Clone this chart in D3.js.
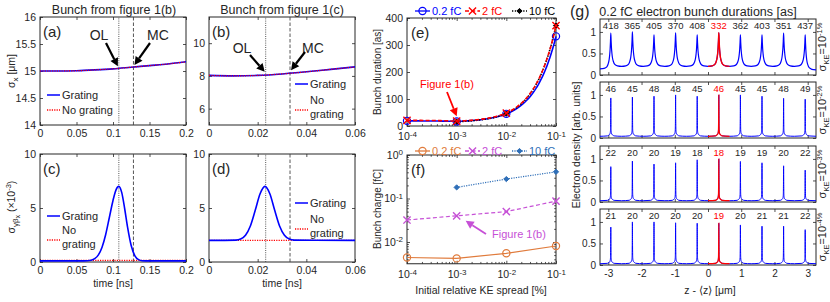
<!DOCTYPE html>
<html>
<head>
<meta charset="utf-8">
<script src="https://cdn.jsdelivr.net/npm/d3@7"></script>
<style>
  body { margin: 0; background: #fff; }
  svg { font-family: "Liberation Sans", Arial, Helvetica, sans-serif; }
</style>
</head>
<body>
<script>
//-----------------Data----------------

// panels (a)/(c): bunch from figure 1(b)
const timeA = [0, 0.025, 0.05, 0.075, 0.1, 0.125, 0.15, 0.175, 0.2];
const sigmaXA = [15.0, 15.0, 15.005, 15.02, 15.04, 15.07, 15.1, 15.13, 15.17];
const timeC = [0, 0.06, 0.07, 0.075, 0.08, 0.085, 0.09, 0.095, 0.1, 0.104, 0.108, 0.112, 0.116, 0.12, 0.125, 0.13, 0.135, 0.14, 0.15, 0.2];
const sigmaGbC = [0.1, 0.1, 0.17, 0.31, 0.66, 1.37, 2.55, 4.12, 5.7, 6.66, 7.0, 6.42, 4.93, 3.2, 1.5, 0.57, 0.22, 0.12, 0.1, 0.1];
const noGratingC = [0.15, 0.15];
const markersAC = [0.108, 0.128]; // OL, MC

// panels (b)/(d): bunch from figure 1(c)
const timeB = [0, 0.01, 0.02, 0.03, 0.04, 0.05, 0.06];
const sigmaXB = [8.03, 8.0, 8.03, 8.12, 8.25, 8.4, 8.55];
const timeD = [0, 0.011, 0.013, 0.015, 0.017, 0.019, 0.021, 0.023, 0.025, 0.027, 0.029, 0.031, 0.033, 0.035, 0.06];
const sigmaGbD = [2.0, 2.03, 2.13, 2.48, 3.34, 4.79, 6.32, 7.0, 6.32, 4.79, 3.34, 2.48, 2.13, 2.03, 2.0];
const noGratingD = [2.0, 2.0];
const markersBD = [0.0233, 0.0333];

// panel (e): bunch duration [as] vs initial KE spread [%]
const spreads = [1e-4, 1e-3, 1e-2, 1e-1];
const dur02 = [19, 17, 45, 332];
const dur2 = [21, 18, 48, 372];
const dur10 = [null, 16, 46, 372];

// panel (f): bunch charge [fC]
const charge02 = [0.0044, 0.0042, 0.0055, 0.0081];
const charge2 = [0.032, 0.040, 0.050, 0.087];
const charge10 = [null, 0.18, 0.28, 0.41];

// panel (g): 0.2 fC bunch trains
const peakPos = [-2.925, -2.275, -1.625, -0.975, -0.325, 0.325, 0.975, 1.625, 2.275, 2.925];
const redPeak = 5;
const keExp = ["-1", "-2", "-3", "-4"];
const durLabels = [
  [418, 365, 405, 370, 408, 332, 362, 403, 351, 437],
  [46, 45, 48, 48, 45, 46, 45, 45, 48, 49],
  [22, 20, 20, 19, 18, 18, 19, 19, 20, 22],
  [21, 20, 20, 20, 20, 19, 20, 21, 21, 22]
];
const peakHeights = [
  [0.97, 1.0, 0.93, 0.98, 0.93, 0.98, 0.93, 0.93, 0.97, 0.93],
  [0.93, 0.95, 0.97, 1.0, 0.97, 1.0, 1.0, 0.97, 0.92, 0.9],
  [0.82, 0.95, 0.88, 0.91, 0.98, 1.0, 0.94, 0.91, 0.84, 0.74],
  [0.88, 1.0, 1.0, 0.98, 0.97, 0.97, 0.93, 0.9, 0.9, 0.82]
];
// level between peaks (cell borders)
const cellBase = [
  [0.14, 0.2, 0.2, 0.2, 0.2, 0.2, 0.2, 0.2, 0.2, 0.2, 0.12],
  [0.04, 0.04, 0.04, 0.04, 0.04, 0.04, 0.04, 0.04, 0.04, 0.04, 0.04],
  [0.03, 0.03, 0.03, 0.03, 0.03, 0.03, 0.03, 0.03, 0.03, 0.03, 0.03],
  [0.03, 0.03, 0.03, 0.03, 0.03, 0.03, 0.03, 0.03, 0.03, 0.03, 0.03]
];
// peak profile: offset from peak [um] -> fraction above base
const wideOffsets = [0, 0.01, 0.02, 0.035, 0.05, 0.08, 0.12, 0.2, 0.325];
const wideLevels = [1, 0.76, 0.56, 0.38, 0.26, 0.14, 0.06, 0.015, 0];
const thinOffsets = [0, 0.005, 0.01, 0.02, 0.035, 0.06, 0.1, 0.325];
const thinLevels = [1, 0.4, 0.15, 0.08, 0.05, 0.03, 0.01, 0];

//-----------------Svg----------------

const width = 830, height = 302;
const ink = "#262626", blue = "#0000ff", red = "#ff0000";
const orange = "#e07b3c", purple = "#c650d6", steel = "#2f6fb8";
const svg = d3.select("body").append("svg").attr("width", width).attr("height", height);

function axes(x, y, o) {
  const [x0, x1] = x.range(), [yb, yt] = y.range();
  const fs = o.fs || 10.5;
  const g = svg.append("g");
  const tl = o.tl || 3;
  g.append("g").attr("class", "xb").attr("transform", `translate(0,${yb})`)
    .call(d3.axisBottom(x).tickValues(o.xt).tickSize(-tl).tickPadding(o.xpad || 5).tickFormat(o.xf || (() => "")));
  g.append("g").attr("transform", `translate(0,${yt})`)
    .call(d3.axisTop(x).tickValues(o.xt).tickSize(-tl).tickFormat(() => ""));
  g.append("g").attr("class", "yl").attr("transform", `translate(${x0},0)`)
    .call(d3.axisLeft(y).tickValues(o.yt).tickSize(-tl).tickPadding(4).tickFormat(o.yf || (() => "")));
  g.append("g").attr("transform", `translate(${x1},0)`)
    .call(d3.axisRight(y).tickValues(o.yt).tickSize(-tl).tickFormat(() => ""));
  if (o.xminor) {
    g.append("g").attr("transform", `translate(0,${yb})`).call(d3.axisBottom(x).tickValues(o.xminor).tickSize(-1.8).tickFormat(() => ""));
    g.append("g").attr("transform", `translate(0,${yt})`).call(d3.axisTop(x).tickValues(o.xminor).tickSize(-1.8).tickFormat(() => ""));
  }
  if (o.yminor) {
    g.append("g").attr("transform", `translate(${x0},0)`).call(d3.axisLeft(y).tickValues(o.yminor).tickSize(-1.8).tickFormat(() => ""));
    g.append("g").attr("transform", `translate(${x1},0)`).call(d3.axisRight(y).tickValues(o.yminor).tickSize(-1.8).tickFormat(() => ""));
  }
  g.selectAll(".domain").remove();
  g.selectAll(".tick line").attr("stroke", ink).attr("stroke-width", 0.8);
  g.selectAll("text").attr("font-size", fs).attr("fill", ink).attr("font-family", null);
  g.append("rect").attr("x", x0).attr("y", yt).attr("width", x1 - x0).attr("height", yb - yt)
    .attr("fill", "none").attr("stroke", ink).attr("stroke-width", 1);
  return g;
}

// 10^n labels on a log axis
function powerLabels(g) {
  g.selectAll(".tick text").each(function (d) {
    const t = d3.select(this);
    t.text(null);
    t.append("tspan").text("10");
    t.append("tspan").attr("dy", "-0.45em").attr("font-size", 8).text(String(Math.round(Math.log10(d))));
  });
}

function decadeMinor(lo, hi) {
  const out = [];
  for (let e = lo; e < hi; e++) for (let m = 2; m <= 9; m++) out.push(m * Math.pow(10, e));
  return out;
}

function arrow(x1, y1, x2, y2, color, w) {
  const a = Math.atan2(y2 - y1, x2 - x1), L = 8, hw = 4.2;
  const bx = x2 - L * Math.cos(a), by = y2 - L * Math.sin(a);
  svg.append("line").attr("x1", x1).attr("y1", y1).attr("x2", bx).attr("y2", by)
    .attr("stroke", color).attr("stroke-width", w || 2.2);
  svg.append("path")
    .attr("d", `M${x2},${y2}L${bx + hw * Math.sin(a)},${by - hw * Math.cos(a)}L${bx - hw * Math.sin(a)},${by + hw * Math.cos(a)}Z`)
    .attr("fill", color);
}

function text(x, y, s, o = {}) {
  return svg.append("text").attr("x", x).attr("y", y).text(s)
    .attr("font-size", o.fs || 11).attr("fill", o.fill || ink)
    .attr("text-anchor", o.anchor || "start");
}

function vlines(x, y, marks) {
  marks.forEach((m, i) => {
    svg.append("line").attr("x1", x(m)).attr("x2", x(m)).attr("y1", y.range()[0]).attr("y2", y.range()[1])
      .attr("stroke", "#444").attr("stroke-width", 0.9)
      .attr("stroke-dasharray", i === 0 ? "1,1.2" : "3.5,2");
  });
}

function curve(x, y, xs, ys, color, w, dash) {
  const line = d3.line().x((d) => x(d[0])).y((d) => y(d[1])).curve(d3.curveMonotoneX);
  svg.append("path").datum(xs.map((v, i) => [v, ys[i]])).attr("d", line)
    .attr("fill", "none").attr("stroke", color).attr("stroke-width", w)
    .attr("stroke-dasharray", dash || null);
}

function legendLine(x, y, color, dotted) {
  svg.append("line").attr("x1", x).attr("x2", x + 13).attr("y1", y).attr("y2", y)
    .attr("stroke", color).attr("stroke-width", dotted ? 1.3 : 1.5)
    .attr("stroke-dasharray", dotted ? "1.2,1.2" : null);
}

//-----------------Panels a-d----------------

const fmtDec = (d) => String(d);
const xAC = d3.scaleLinear().domain([0, 0.2]).range([40, 186]);
const xBD = d3.scaleLinear().domain([0, 0.06]).range([209, 355]);
const yA = d3.scaleLinear().domain([14, 16]).range([125, 17]);
const yB = d3.scaleLinear().domain([5, 11.6]).range([125, 17]);
const yC = d3.scaleLinear().domain([0, 10]).range([262, 154]);
const yD = d3.scaleLinear().domain([0, 10]).range([262, 154]);

axes(xAC, yA, { xt: [0, 0.05, 0.1, 0.15, 0.2], yt: [14, 14.5, 15, 15.5, 16], xf: fmtDec, yf: fmtDec });
axes(xBD, yB, { xt: [0, 0.02, 0.04, 0.06], yt: [6, 8, 10], xf: fmtDec, yf: fmtDec });
axes(xAC, yC, { xt: [0, 0.05, 0.1, 0.15, 0.2], yt: [0, 5, 10], xf: fmtDec, yf: fmtDec });
axes(xBD, yD, { xt: [0, 0.02, 0.04, 0.06], yt: [0, 5, 10], xf: fmtDec, yf: fmtDec });

vlines(xAC, yA, markersAC);
vlines(xAC, yC, markersAC);
vlines(xBD, yB, markersBD);
vlines(xBD, yD, markersBD);

curve(xAC, yA, timeA, sigmaXA, blue, 1.6);
curve(xAC, yA, timeA, sigmaXA, red, 1.2, "1.2,1.2");
curve(xBD, yB, timeB, sigmaXB, blue, 1.6);
curve(xBD, yB, timeB, sigmaXB, red, 1.2, "1.2,1.2");
curve(xAC, yC, [0, 0.2], noGratingC, red, 1.3, "1.2,1.2");
curve(xAC, yC, timeC, sigmaGbC, blue, 1.6);
curve(xBD, yD, [0, 0.06], noGratingD, red, 1.3, "1.2,1.2");
curve(xBD, yD, timeD, sigmaGbD, blue, 1.6);

// titles
text(114, 14, "Bunch from figure 1(b)", { fs: 12.5, anchor: "middle" });
text(282, 14, "Bunch from figure 1(c)", { fs: 12.5, anchor: "middle" });

// panel letters
text(43, 37, "(a)", { fs: 15 });
text(212, 37, "(b)", { fs: 15 });
text(43, 174, "(c)", { fs: 15 });
text(212, 174, "(d)", { fs: 15 });

// OL / MC annotations
text(99, 40, "OL", { fs: 14, anchor: "middle" });
text(158, 40, "MC", { fs: 14, anchor: "middle" });
arrow(106, 43, xAC(markersAC[0]) - 1, yA(15.05) - 2, "#000");
arrow(150, 43, xAC(markersAC[1]) + 1, yA(15.075) - 2, "#000");
text(242, 53, "OL", { fs: 14, anchor: "middle" });
text(313, 53, "MC", { fs: 14, anchor: "middle" });
arrow(250, 55, xBD(markersBD[0]) - 1, yB(8.07) - 3, "#000");
arrow(305, 52, xBD(markersBD[1]) + 1, yB(8.17) - 3, "#000");

// legends
legendLine(47, 95, blue, false);
text(62, 99, "Grating", { fs: 11 });
legendLine(47, 110, red, true);
text(62, 114, "No grating", { fs: 11 });

legendLine(47, 216, blue, false);
text(62, 220, "Grating", { fs: 11 });
legendLine(47, 240, red, true);
text(62, 234, "No", { fs: 11 });
text(62, 248, "grating", { fs: 11 });

legendLine(295, 84, blue, false);
text(310, 88, "Grating", { fs: 11 });
legendLine(295, 110, red, true);
text(310, 104, "No", { fs: 11 });
text(310, 118, "grating", { fs: 11 });

legendLine(295, 203, blue, false);
text(310, 207, "Grating", { fs: 11 });
legendLine(295, 229, red, true);
text(310, 223, "No", { fs: 11 });
text(310, 237, "grating", { fs: 11 });

// axis labels
text(113, 287, "time [ns]", { fs: 10.5, anchor: "middle" });
text(282, 287, "time [ns]", { fs: 10.5, anchor: "middle" });

const yl1 = svg.append("text").attr("transform", "translate(15,71) rotate(-90)")
  .attr("text-anchor", "middle").attr("font-size", 10.5).attr("fill", ink);
yl1.append("tspan").text("σ");
yl1.append("tspan").attr("dy", 3).attr("font-size", 8).text("x");
yl1.append("tspan").attr("dy", -3).text(" [μm]");

const yl2 = svg.append("text").attr("transform", "translate(15,207) rotate(-90)")
  .attr("text-anchor", "middle").attr("font-size", 10.5).attr("fill", ink);
yl2.append("tspan").text("σ");
yl2.append("tspan").attr("dy", 3).attr("font-size", 8).text("γβ");
yl2.append("tspan").attr("dy", 2).attr("font-size", 6.5).text("x");
yl2.append("tspan").attr("dy", -5).text(" (×10");
yl2.append("tspan").attr("dy", -4).attr("font-size", 7.5).text("-3");
yl2.append("tspan").attr("dy", 4).text(")");

//-----------------Panels e-f----------------

const xE = d3.scaleLog().domain([1e-4, 1e-1]).range([407, 556]);
const yE = d3.scaleLinear().domain([0, 400]).range([126, 18]);
const yF = d3.scaleLog().domain([Math.pow(10, -2.5), 1]).range([263.75, 155]);

const gE = axes(xE, yE, { xt: spreads, yt: [0, 100, 200, 300, 400], xf: () => "x", yf: fmtDec, xpad: 7, xminor: decadeMinor(-4, -1) });
powerLabels(gE.select(".xb"));
const gF = axes(xE, yF, { xt: spreads, yt: [0.01, 0.1, 1], xf: () => "x", yf: () => "y", xpad: 7,
  xminor: decadeMinor(-4, -1), yminor: decadeMinor(-3, 0).filter((v) => v > Math.pow(10, -2.5)) });
powerLabels(gF.select(".xb"));
powerLabels(gF.select(".yl"));

// straight segments in data space, drawn on the log axis
function dataLine(x, y, xs, ys) {
  const pts = [];
  for (let i = 0; i < xs.length - 1; i++) {
    if (ys[i] == null || ys[i + 1] == null) continue;
    for (let k = 0; k <= 40; k++) {
      const f = k / 40;
      pts.push([x(xs[i] + (xs[i + 1] - xs[i]) * f), y(ys[i] + (ys[i + 1] - ys[i]) * f)]);
    }
  }
  return d3.line()(pts);
}

function marker(g, kind, cx, cy, color) {
  if (kind === "o") {
    g.append("circle").attr("cx", cx).attr("cy", cy).attr("r", 3.6).attr("fill", "none").attr("stroke", color).attr("stroke-width", 1.2);
  } else if (kind === "x") {
    const s = 3.6;
    g.append("path").attr("d", `M${cx - s},${cy - s}L${cx + s},${cy + s}M${cx - s},${cy + s}L${cx + s},${cy - s}`)
      .attr("stroke", color).attr("stroke-width", 1.4);
  } else {
    const s = 2.6;
    g.append("path").attr("d", `M${cx},${cy - s}L${cx + s},${cy}L${cx},${cy + s}L${cx - s},${cy}Z`).attr("fill", color).attr("stroke", color);
  }
}

const seriesE = [
  { vals: dur02, color: blue, dash: null, m: "o", name: "0.2 fC" },
  { vals: dur10, color: "#000", dash: "1.3,1.5", m: "d", name: "10 fC" },
  { vals: dur2, color: red, dash: "4,2.2", m: "x", name: "2 fC" }
];
seriesE.forEach((s) => {
  svg.append("path").attr("d", dataLine(xE, yE, spreads, s.vals)).attr("fill", "none")
    .attr("stroke", s.color).attr("stroke-width", 1.6).attr("stroke-dasharray", s.dash);
  const g = svg.append("g");
  spreads.forEach((v, i) => { if (s.vals[i] != null) marker(g, s.m, xE(v), yE(s.vals[i]), s.color); });
});

const seriesF = [
  { vals: charge02, color: orange, dash: null, m: "o", name: "0.2 fC" },
  { vals: charge2, color: purple, dash: "4,2.5", m: "x", name: "2 fC" },
  { vals: charge10, color: steel, dash: "1.2,1.2", m: "d", name: "10 fC" }
];
seriesF.forEach((s) => {
  const pts = spreads.map((v, i) => [v, s.vals[i]]).filter((p) => p[1] != null);
  svg.append("path").datum(pts).attr("d", d3.line().x((d) => xE(d[0])).y((d) => yF(d[1])))
    .attr("fill", "none").attr("stroke", s.color).attr("stroke-width", 1.2).attr("stroke-dasharray", s.dash);
  const g = svg.append("g");
  pts.forEach((p) => marker(g, s.m, xE(p[0]), yF(p[1]), s.color));
});

// legends above e and f
function topLegend(y, order) {
  const xs = [415, 465, 512];
  const tx = [432, 482, 529];
  order.forEach((s, i) => {
    svg.append("line").attr("x1", xs[i]).attr("x2", xs[i] + 15).attr("y1", y).attr("y2", y)
      .attr("stroke", s.color).attr("stroke-width", 1.3).attr("stroke-dasharray", s.dash);
    marker(svg, s.m, xs[i] + 7.5, y, s.color);
    text(tx[i], y + 4, s.name, { fs: 11, fill: s.color });
  });
}
topLegend(11, [seriesE[0], seriesE[2], seriesE[1]]);
topLegend(151, seriesF);

text(411, 38, "(e)", { fs: 15 });
text(411, 175, "(f)", { fs: 15 });

text(447, 88, "Figure 1(b)", { fs: 11, fill: red, anchor: "middle" });
arrow(447, 92, xE(1e-3), yE(dur2[1]) - 5, red, 1.8);
text(519, 238, "Figure 1(b)", { fs: 11, fill: purple, anchor: "middle" });
arrow(486, 234, xE(1e-3) + 9, yF(charge2[1]) + 5, purple, 1.8);

svg.append("text").attr("transform", "translate(381,72) rotate(-90)").attr("text-anchor", "middle")
  .attr("font-size", 10).attr("fill", ink).text("Bunch duration [as]");
svg.append("text").attr("transform", "translate(381,209) rotate(-90)").attr("text-anchor", "middle")
  .attr("font-size", 10).attr("fill", ink).text("Bunch charge [fC]");
text(481, 294, "Initial relative KE spread [%]", { fs: 10.5, anchor: "middle" });

//-----------------Panel g----------------

const xG = d3.scaleLinear().domain([-3.25, 3.25]).range([600, 816]);
const rowsG = [[75, 19], [138, 82], [202, 146], [265, 209]];

text(570, 17, "(g)", { fs: 16 });
text(698, 16, "0.2 fC electron bunch durations [as]", { fs: 12.5, anchor: "middle" });

function rowPoints(r, from, to) {
  const offs = r === 0 ? wideOffsets : thinOffsets;
  const lev = r === 0 ? wideLevels : thinLevels;
  const pts = [];
  for (let i = from; i <= to; i++) {
    const h = peakHeights[r][i], bl = cellBase[r][i], br = cellBase[r][i + 1];
    for (let k = offs.length - 1; k > 0; k--) pts.push([peakPos[i] - offs[k], bl + (h - bl) * lev[k]]);
    pts.push([peakPos[i], h]);
    for (let k = 1; k < offs.length; k++) pts.push([peakPos[i] + offs[k], br + (h - br) * lev[k]]);
  }
  return pts;
}

rowsG.forEach((rg, r) => {
  const y = d3.scaleLinear().domain([0, 1.3]).range(rg);
  axes(xG, y, { xt: [-3, -2, -1, 0, 1, 2, 3], yt: [0, 0.5, 1], fs: 10,
    xf: r === 3 ? (d) => String(d) : null, yf: (d) => String(d) });
  const line = d3.line().x((d) => xG(d[0])).y((d) => y(d[1])).curve(d3.curveMonotoneX);
  svg.append("path").datum(rowPoints(r, 0, peakPos.length - 1)).attr("d", line)
    .attr("fill", "none").attr("stroke", blue).attr("stroke-width", r === 0 ? 1.2 : 1);
  svg.append("path").datum(rowPoints(r, redPeak, redPeak)).attr("d", line)
    .attr("fill", "none").attr("stroke", red).attr("stroke-width", r === 0 ? 1.4 : 1.2);
  durLabels[r].forEach((v, i) => {
    text(xG(peakPos[i]), rg[1] + 10, String(v), { fs: 9.5, anchor: "middle", fill: i === redPeak ? red : ink });
  });
  const lab = svg.append("text").attr("transform", `translate(826,${(rg[0] + rg[1]) / 2}) rotate(-90)`)
    .attr("text-anchor", "middle").attr("font-size", 11).attr("fill", ink);
  lab.append("tspan").text("σ");
  lab.append("tspan").attr("dy", 3).attr("font-size", 7.5).text("KE");
  lab.append("tspan").attr("dy", -3).text("=10");
  lab.append("tspan").attr("dy", -4).attr("font-size", 7.5).text(keExp[r] + "%");
});

svg.append("text").attr("transform", "translate(580,145) rotate(-90)").attr("text-anchor", "middle")
  .attr("font-size", 10.5).attr("fill", ink).text("Electron density [arb. units]");
text(710, 294, "z - ⟨z⟩ [μm]", { fs: 10.5, anchor: "middle" });
</script>
</body>
</html>
